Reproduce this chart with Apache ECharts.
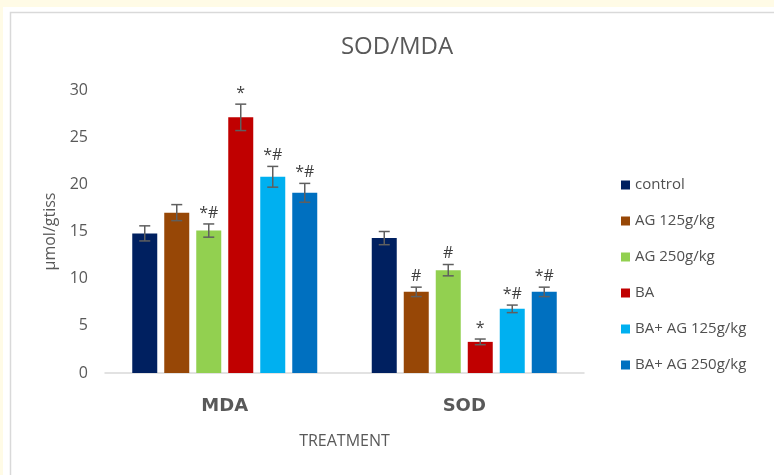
<!DOCTYPE html>
<html>
<head>
<meta charset="utf-8">
<script src="https://cdn.jsdelivr.net/npm/echarts@6/dist/echarts.min.js"></script>
<style>
  html, body { margin: 0; padding: 0; background: #fff; }
  #chart { width: 774px; height: 475px; }
</style>
</head>
<body>
<div id="chart"></div>
<script>
// Measured groups and treatments
const categories = ['MDA', 'SOD'];
const groupNames = ['control', 'AG 125g/kg', 'AG 250g/kg', 'BA', 'BA+ AG 125g/kg', 'BA+ AG 250g/kg'];
const groupColors = ['#002060', '#974706', '#92D050', '#C00000', '#00B0F0', '#0070C0'];

// Mean values (MDA, SOD) per group
const controlMean = [14.8, 14.3];
const ag125Mean = [17.0, 8.6];
const ag250Mean = [15.1, 10.9];
const baMean = [27.1, 3.3];
const baAg125Mean = [20.8, 6.8];
const baAg250Mean = [19.1, 8.6];

// Error (± SE) per group
const controlErr = [0.8, 0.7];
const ag125Err = [0.85, 0.5];
const ag250Err = [0.7, 0.6];
const baErr = [1.4, 0.3];
const baAg125Err = [1.1, 0.4];
const baAg250Err = [1.0, 0.5];

// Significance marks per group
const controlSig = ['', ''];
const ag125Sig = ['', '#'];
const ag250Sig = ['*#', '#'];
const baSig = ['*', '*'];
const baAg125Sig = ['*#', '*#'];
const baAg250Sig = ['*#', '*#'];

const yTicks = [0, 5, 10, 15, 20, 25, 30];

const means = [controlMean, ag125Mean, ag250Mean, baMean, baAg125Mean, baAg250Mean];
const errs = [controlErr, ag125Err, ag250Err, baErr, baAg125Err, baAg250Err];
const sigs = [controlSig, ag125Sig, ag250Sig, baSig, baAg125Sig, baAg250Sig];

const BAR_W = 25;
const BAR_GAP = 7;
const TXT = '#595959';

const barSeries = groupNames.map((name, j) => ({
  name: name,
  type: 'bar',
  data: means[j],
  barWidth: BAR_W,
  barGap: (BAR_GAP / BAR_W * 100) + '%',
  itemStyle: { color: groupColors[j] },
  emphasis: { disabled: true }
}));

// Error bars + significance marks, offset to sit over each grouped bar
const errData = [];
groupNames.forEach((name, j) => {
  categories.forEach((c, i) => {
    errData.push([i, means[j][i] - errs[j][i], means[j][i] + errs[j][i], j, sigs[j][i]]);
  });
});

const errSeries = {
  type: 'custom',
  name: 'error',
  data: errData,
  z: 5,
  encode: { x: 0, y: [1, 2] },
  renderItem: function (params, api) {
    const ci = api.value(0);
    const j = api.value(3);
    const off = (j - (groupNames.length - 1) / 2) * (BAR_W + BAR_GAP);
    const lo = api.coord([ci, api.value(1)]);
    const hi = api.coord([ci, api.value(2)]);
    const x = lo[0] + off;
    const cap = 5.5;
    const style = { stroke: '#5f5f5f', lineWidth: 1.5 };
    const children = [
      { type: 'line', shape: { x1: x, y1: lo[1], x2: x, y2: hi[1] }, style: style },
      { type: 'line', shape: { x1: x - cap, y1: hi[1], x2: x + cap, y2: hi[1] }, style: style },
      { type: 'line', shape: { x1: x - cap, y1: lo[1], x2: x + cap, y2: lo[1] }, style: style }
    ];
    const label = errData[params.dataIndex][4];
    if (label) {
      children.push({
        type: 'text',
        style: {
          text: label, x: x, y: hi[1] - 3,
          align: 'center', verticalAlign: 'bottom',
          fill: '#404040', font: '16px "Open Sans"'
        }
      });
    }
    return { type: 'group', children: children };
  }
};

const chart = echarts.init(document.getElementById('chart'), null, { renderer: 'canvas' });
chart.setOption({
  animation: false,
  backgroundColor: '#ffffff',
  graphic: [
    { type: 'rect', shape: { x: 0, y: 0, width: 774, height: 7 }, style: { fill: '#fffbe6' }, silent: true },
    { type: 'rect', shape: { x: 0, y: 0, width: 3, height: 475 }, style: { fill: '#fffbe6' }, silent: true },
    { type: 'polyline', shape: { points: [[10.5, 480], [10.5, 12.5], [780, 12.5]] },
      style: { stroke: '#d9d9d9', lineWidth: 1.5, fill: null }, silent: true }
  ],
  title: {
    text: 'SOD/MDA',
    left: 392, top: 30, textAlign: 'center',
    textStyle: { color: TXT, fontSize: 24, fontWeight: 'normal', fontFamily: 'Open Sans' }
  },
  legend: {
    orient: 'vertical',
    left: 616, top: 172,
    itemWidth: 9, itemHeight: 9,
    itemGap: 20,
    icon: 'rect',
    data: groupNames,
    textStyle: { color: '#505050', fontSize: 15, fontFamily: 'Open Sans', lineHeight: 16 }
  },
  grid: { left: 105, right: 190, top: 90, bottom: 102 },
  xAxis: {
    type: 'category',
    data: categories,
    name: 'TREATMENT',
    nameLocation: 'middle',
    nameGap: 60,
    nameTextStyle: { color: TXT, fontSize: 16, fontFamily: 'Open Sans' },
    axisLine: { lineStyle: { color: '#d9d9d9', width: 1.5 } },
    axisTick: { show: false },
    axisLabel: { color: TXT, fontSize: 18, fontWeight: 'bold', fontFamily: 'DejaVu Sans', margin: 24 }
  },
  yAxis: {
    type: 'value',
    min: yTicks[0], max: yTicks[yTicks.length - 1], interval: 5,
    name: 'μmol/gtiss',
    nameLocation: 'middle',
    nameGap: 44,
    nameTextStyle: { color: TXT, fontSize: 16, fontFamily: 'Open Sans' },
    axisLine: { show: false },
    axisTick: { show: false },
    splitLine: { show: false },
    axisLabel: { color: TXT, fontSize: 16, fontFamily: 'Open Sans', margin: 17 }
  },
  series: barSeries.concat([errSeries])
});
</script>
</body>
</html>
